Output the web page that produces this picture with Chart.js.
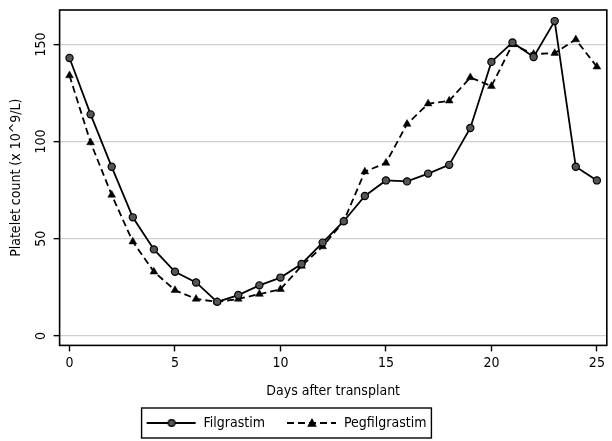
<!DOCTYPE html>
<html>
<head>
<meta charset="utf-8">
<script src="https://cdn.jsdelivr.net/npm/chart.js@4.4.1/dist/chart.umd.min.js"></script>
<style>
  body { margin: 0; background: #ffffff; }
  #wrap { width: 612px; height: 441px; }
</style>
</head>
<body>
<div id="wrap"><canvas id="plot"></canvas></div>
<script>
////data//////////////////////////////////////////////////////////////
const days = [0,1,2,3,4,5,6,7,8,9,10,11,12,13,14,15,16,17,18,19,20,21,22,23,24,25];
const filgrastim = [143,114,87,61,44.5,33,27.5,17.5,21,26,30,37,48,59,72,80,79.5,83.5,88,107,141,151,143.5,162,87,80];
const pegfilgrastim = [134,99.5,72.5,48.5,33,23.5,19,17.5,19,21.5,24,36,46,59,84.5,89,109,119.5,121,133,128.5,150,145,145.5,152.5,138.5];
const xTicks = [0,5,10,15,20,25];
const yTicks = [0,50,100,150];

const FONT = "'DejaVu Sans Condensed', 'DejaVu Sans', sans-serif";

////legend symbols (line + marker)////////////////////////////////////
function makeSymbol(dashed, marker) {
  const c = document.createElement("canvas");
  c.width = 60; c.height = 12;
  const g = c.getContext("2d");
  g.strokeStyle = "#000"; g.lineWidth = 1.8;
  if (dashed) g.setLineDash([7, 4]);
  g.beginPath(); g.moveTo(10, 6); g.lineTo(59, 6); g.stroke();
  g.setLineDash([]);
  g.beginPath();
  if (marker === "circle") {
    g.arc(35, 6, 3.4, 0, Math.PI * 2);
    g.fillStyle = "#555"; g.fill(); g.lineWidth = 1.2; g.stroke();
  } else {
    g.moveTo(35, 1); g.lineTo(39.8, 9.8); g.lineTo(30.2, 9.8); g.closePath();
    g.fillStyle = "#000"; g.fill();
  }
  return c;
}

////frame around plot + box around legend/////////////////////////////
const framePlugin = {
  id: "frame",
  afterLayout(chart) {
    chart.legend.left -= 24;
    chart.legend.right -= 24;
  },
  afterDraw(chart) {
    const ctx = chart.ctx;
    const a = chart.chartArea;
    ctx.save();
    ctx.strokeStyle = "#000";
    ctx.lineWidth = 1.6;
    ctx.strokeRect(a.left, a.top, a.right - a.left, a.bottom - a.top);
    const boxes = chart.legend.legendHitBoxes;
    if (boxes.length) {
      const first = boxes[0], last = boxes[boxes.length - 1];
      const cy = first.top + first.height / 2;
      const x0 = first.left + 5, x1 = last.left + last.width + 5;
      ctx.lineWidth = 1.4;
      ctx.strokeRect(x0, cy - 15, x1 - x0, 30);
    }
    ctx.restore();
  }
};

////chart//////////////////////////////////////////////////////////////
const myChart = new Chart(document.getElementById("plot"), {
  type: "line",
  plugins: [framePlugin],
  data: {
    datasets: [
      {
        label: "Filgrastim",
        data: days.map((d, i) => ({ x: d, y: filgrastim[i] })),
        borderColor: "#000",
        borderWidth: 1.8,
        pointStyle: "circle",
        pointRadius: 3.6,
        pointBackgroundColor: "#555",
        pointBorderColor: "#000",
        pointBorderWidth: 1.2,
        tension: 0,
      },
      {
        label: "Pegfilgrastim",
        data: days.map((d, i) => ({ x: d, y: pegfilgrastim[i] })),
        borderColor: "#000",
        borderWidth: 1.8,
        borderDash: [7, 4],
        pointStyle: "triangle",
        pointRadius: 4.5,
        pointBackgroundColor: "#000",
        pointBorderColor: "#000",
        pointBorderWidth: 0.5,
        tension: 0,
      },
    ],
  },
  options: {
    responsive: true,
    maintainAspectRatio: false,
    animation: false,
    layout: { padding: { top: 10, right: 1, bottom: 1, left: 0 } },
    font: { family: FONT },
    scales: {
      x: {
        type: "linear",
        min: -0.47,
        max: 25.47,
        afterBuildTicks: (s) => { s.ticks = xTicks.map(v => ({ value: v })); },
        grid: { drawOnChartArea: false, tickLength: 6, tickColor: "#000", tickWidth: 1.4 },
        border: { display: false },
        ticks: { color: "#000", padding: 4, font: { family: FONT, size: 14 }, maxRotation: 0 },
        title: { display: true, text: "Days after transplant", color: "#000",
                 font: { family: FONT, size: 14 }, padding: { top: 7, bottom: 4 } },
      },
      y: {
        type: "linear",
        min: -4.9,
        max: 167.7,
        afterBuildTicks: (s) => { s.ticks = yTicks.map(v => ({ value: v })); },
        grid: { color: "#d0d0d0", lineWidth: 1.3, tickLength: 6, tickColor: "#000", tickWidth: 1.4 },
        border: { display: false },
        ticks: { color: "#000", padding: 0, crossAlign: "center", minRotation: 90, maxRotation: 90,
                 font: { family: FONT, size: 14 } },
        title: { display: true, text: "Platelet count (x 10^9/L)", color: "#000",
                 font: { family: FONT, size: 14 }, padding: { top: 8, bottom: 12 } },
      },
    },
    plugins: {
      tooltip: { enabled: false },
      legend: {
        position: "bottom",
        labels: {
          usePointStyle: true,
          pointStyleWidth: 60,
          boxHeight: 12,
          padding: 12,
          color: "#000",
          font: { family: FONT, size: 14 },
          generateLabels: (chart) => [
            { text: "Filgrastim", pointStyle: makeSymbol(false, "circle"), datasetIndex: 0, lineWidth: 0, strokeStyle: "transparent", fillStyle: "transparent" },
            { text: "Pegfilgrastim", pointStyle: makeSymbol(true, "triangle"), datasetIndex: 1, lineWidth: 0, strokeStyle: "transparent", fillStyle: "transparent" },
          ],
        },
      },
    },
  },
});
</script>
</body>
</html>
